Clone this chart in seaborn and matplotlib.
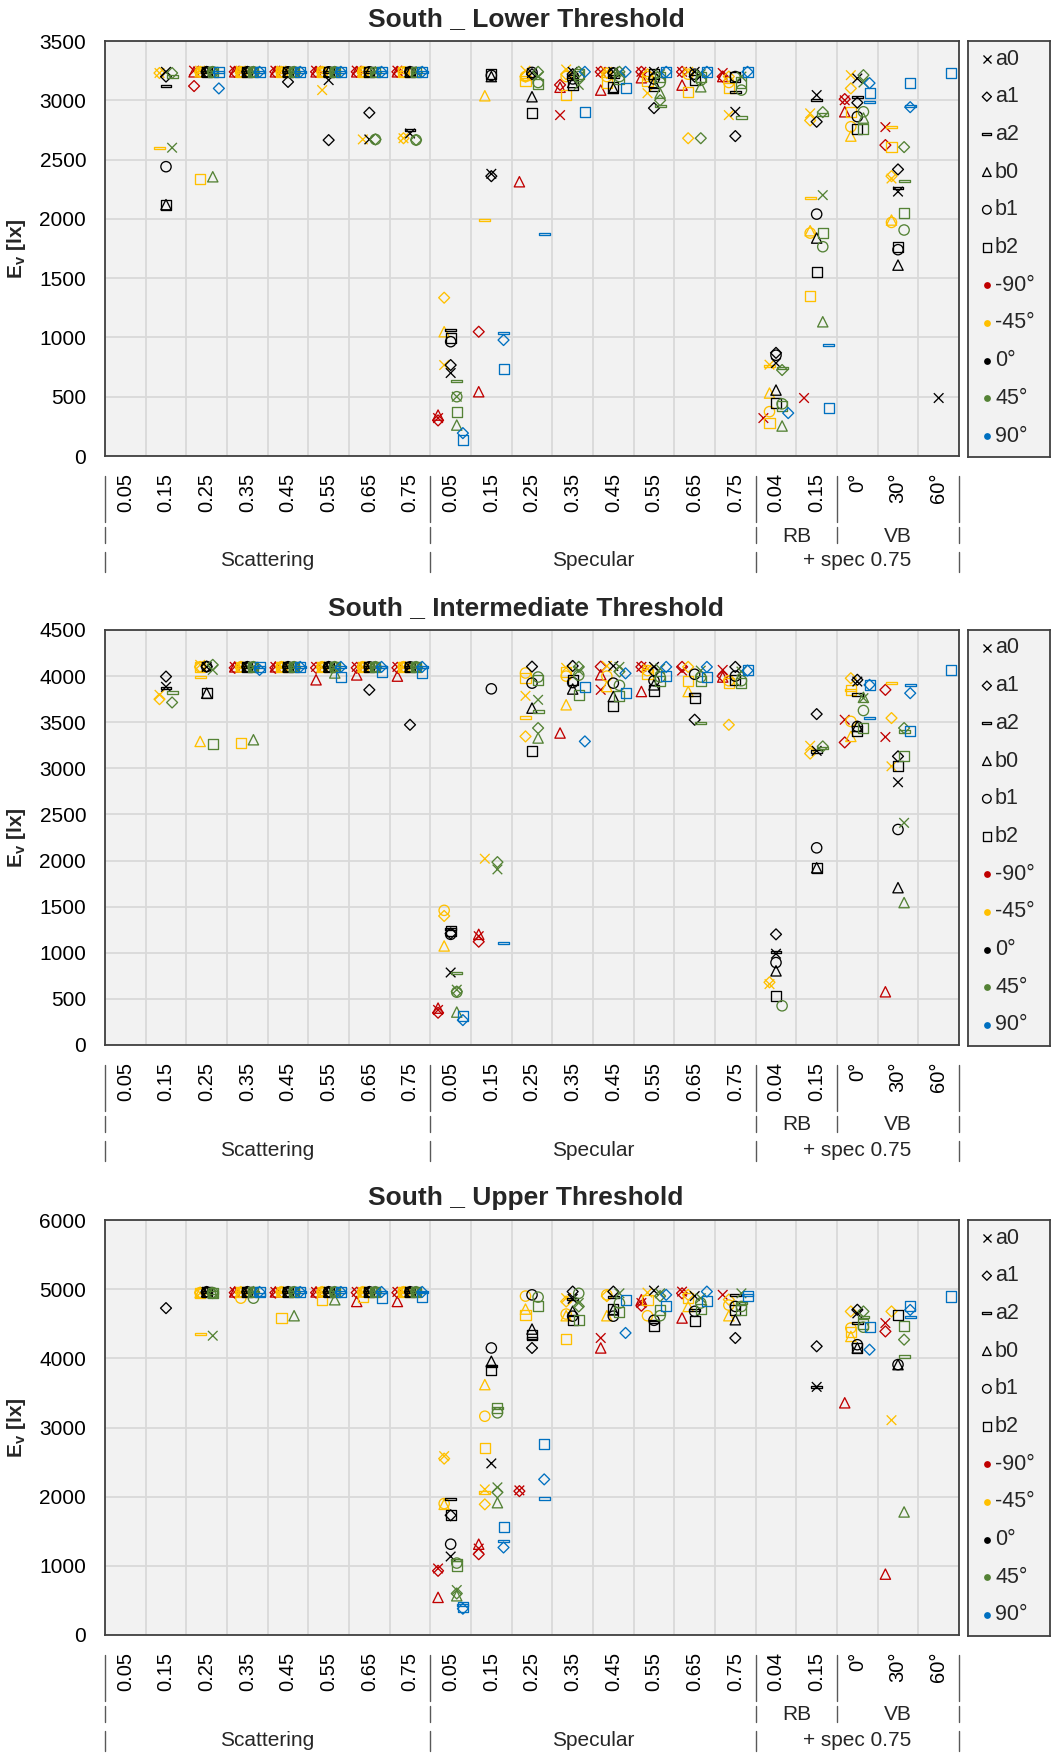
import numpy as np
import pandas as pd
import matplotlib
matplotlib.use("Agg")
import matplotlib.pyplot as plt
import seaborn as sns
from matplotlib.path import Path
from matplotlib.transforms import blended_transform_factory

N = None

# ---------------- data ----------------
categories = ['0.05', '0.15', '0.25', '0.35', '0.45', '0.55', '0.65', '0.75',
              '0.05', '0.15', '0.25', '0.35', '0.45', '0.55', '0.65', '0.75',
              '0.04', '0.15', '0°', '30°', '60°']
level2_labels = [('RB', 16, 17), ('VB', 18, 20)]
level3_labels = [('Scattering', 0, 7), ('Specular', 8, 15), ('+ spec 0.75', 16, 20)]
shapes = ['a0', 'a1', 'a2', 'b0', 'b1', 'b2']
angles = ['-90°', '-45°', '0°', '45°', '90°']

# rows: categories; columns: a0, a1, a2, b0, b1, b2
lower_m90 = [None, None,
    [3250, 3120, N, 3240, N, N], [3250, 3240, N, 3240, N, N], [3250, 3240, N, 3240, N, N],
    [3250, 3240, N, 3240, N, N], [3250, 3240, N, 3240, N, N], [3250, 3240, N, 3240, N, N],
    [320, 300, N, 345, N, N], [N, 1048, N, 542, N, N], [N, N, N, 2313, N, N],
    [2875, 3130, N, 3110, N, N], [3240, 3240, N, 3086, N, N], [3240, 3240, N, 3190, N, N],
    [3240, 3240, N, 3128, N, N], [3230, 3200, N, 3200, N, N],
    [320, N, N, N, N, N], [489, N, N, N, N, N],
    [3000, 3010, N, 2903, N, N], [2774, 2622, N, N, N, N], None]
lower_m45 = [None,
    [3230, 3230, 2600, N, N, N], [3250, 3240, 3240, 3240, 3240, 2340],
    [3250, 3240, 3240, 3240, 3240, 3240], [3250, 3240, 3240, 3240, 3240, 3240],
    [3086, 3240, 3240, 3240, 3240, 3240], [2670, 3240, 3240, 3240, 3240, 3240],
    [2680, 2680, 3240, 3240, 3240, 3240],
    [767, 1335, N, 1048, N, N], [N, N, 1990, 3038, N, N], [3250, 3200, 3180, N, 3200, 3160],
    [3260, 3220, N, N, 3200, 3044], [3240, 3230, N, N, 3200, 3150], [3060, 3220, N, N, 3200, 3160],
    [3240, 2680, N, N, 3220, 3072], [2875, 3200, N, N, 3150, 3100],
    [770, N, 759, 531, 374, 278], [2890, 2830, 2178, 1900, 1880, 1349],
    [3212, 3100, N, 2698, 2777, 2903], [2340, 2360, 2774, 1990, 1970, 2602], None]
lower_0 = [None,
    [3240, 3200, 3120, 2120, 2440, 2120], [3240, 3240, 3240, 3240, 3240, 3240],
    [3240, 3240, 3240, 3240, 3240, 3240], [3240, 3155, 3240, 3240, 3240, 3240],
    [3170, 2664, 3240, 3240, 3240, 3240], [2670, 2895, 3240, 3240, 3240, 3240],
    [2720, 3240, 2749, 3240, 3240, 3240],
    [700, 767, 1062, N, 964, 995], [2380, 2360, N, 3200, 3210, 3220], [3230, 3220, N, 3030, 3235, 2895],
    [3240, 3220, 3200, 3150, 3180, 3130], [3240, 3230, 3200, 3100, 3230, 3114],
    [3240, 2934, 3090, 3150, 3180, 3220], [3240, 3200, N, N, 3220, 3170],
    [2903, 2698, 3072, N, 3200, 3200],
    [784, 870, N, 556, 850, 450], [3044, 2819, 3000, 1838, 2040, 1554],
    [3184, 2980, 3030, N, 2862, 2755], [2230, 2417, 2260, 1610, 1740, 1765], [489, N, N, N, N, N]]
lower_p45 = [None,
    [2600, 3230, 3200, N, N, N], [3240, 3240, 3240, 2355, 3240, 3240],
    [3240, 3240, 3240, 3240, 3240, 3240], [3240, 3240, 3240, 3240, 3240, 3240],
    [3240, 3240, 3240, 3240, 3240, 3240], [3240, 2670, 3240, 3240, 2670, 3240],
    [3240, 2665, 3240, 3240, 2665, 3240],
    [500, N, 635, 261, 500, 374], None, [3200, 3240, N, N, 3150, 3140],
    [3130, 3240, N, N, 3200, 3220], [3230, 3240, N, N, 3200, 3180],
    [3220, 3000, 2950, 3060, 3150, 3200], [3220, 2680, N, 3114, 3170, 3200],
    [3200, N, 2855, N, 3086, 3150],
    [N, 725, 740, 253, 440, 420], [2200, 2900, 2880, 1132, 1765, 1880],
    [3150, 3212, N, 2850, 2903, 2755], [N, 2605, 2321, N, 1906, 2049], None]
lower_p90 = [None, None,
    [N, 3100, 3240, N, N, 3240], [N, 3240, 3240, N, N, 3240], [N, 3240, 3240, N, N, 3240],
    [N, 3240, 3240, N, N, 3240], [N, 3240, 3240, N, N, 3240], [N, 3240, 3240, N, N, 3240],
    [N, 193, N, N, N, 135], [N, 978, 1037, N, N, 733], [N, N, 1872, N, N, N],
    [N, 3240, N, N, N, 2903], [N, 3240, N, N, N, 3100], [N, 3240, N, N, N, 3240],
    [N, 3240, N, N, N, 3240], [N, 3240, N, N, N, 3240],
    [N, 362, N, N, N, N], [N, N, 936, N, N, 405],
    [N, 3145, 2987, N, N, 3060], [N, 2942, 2950, N, N, 3148], [N, N, N, N, N, 3226]]

inter_m90 = [None, None, None,
    [4100, 4090, N, 4100, N, N], [4100, 4090, N, 4100, N, N], [4100, 4090, N, 3960, N, N],
    [4100, 4090, N, 4013, N, N], [4100, 4090, N, 4000, N, N],
    [380, 350, N, 400, N, N], [1180, 1120, N, 1200, N, N], None,
    [N, N, N, 3383, N, N], [3851, 4103, N, 4015, N, N], [4100, 4100, N, 3833, N, N],
    [4060, 4100, N, N, N, N], [4067, 4000, N, 3990, N, N],
    None, None, [3527, 3281, N, N, N, N], [3340, 3851, N, 577, N, N], None]
inter_m45 = [None,
    [3797, 3750, N, N, N, N], [4122, 4100, 3988, 3292, 4100, 4100],
    [4100, 4100, 4100, 4100, 4100, 3274], [4100, 4100, 4100, 4100, 4100, 4100],
    [4100, 4100, 4100, 4100, 4100, 4100], [4100, 4100, 4100, 4100, 4100, 4100],
    [4100, 4100, 4100, 4100, 4100, 4100],
    [N, 1399, N, 1074, 1460, N], [2020, N, N, N, N, N], [3786, 3346, 3552, N, 4034, 3980],
    [4090, N, N, 3689, 4000, 4040], [4110, N, N, 3887, 4000, N], [4080, N, N, N, 4060, 4020],
    [N, 4100, N, 3833, N, 3950], [N, 3472, N, N, 3950, 3924],
    [660, 680, N, N, N, N], [3245, 3160, N, N, N, N],
    [N, 3977, 3851, 3346, 3509, 3851], [3022, 3545, 3924, N, N, N], None]
inter_0 = [None,
    [3884, 3995, 3870, N, N, N], [4100, 4103, N, 3815, 4103, 3815],
    [4100, 4100, 4100, 4100, 4100, 4100], [4100, 4100, 4100, 4100, 4100, 4100],
    [4100, 4100, 4100, 4100, 4100, 4100], [4100, 3851, 4100, 4100, 4100, 4100],
    [4100, 3472, 4100, 4100, 4100, 4100],
    [786, 1210, 1255, N, 1200, 1233], [N, N, N, N, 3862, N], [N, 4103, N, 3653, 3924, 3184],
    [N, 4110, N, 3860, 3930, 3960], [4110, N, N, 3779, 3924, 3678],
    [4100, 4050, N, 3905, 3950, 3844], [N, 3527, 3800, N, 4020, 3760],
    [N, 4100, N, N, 4000, 3960],
    [990, 1200, 1010, 804, 894, 534], [3190, 3588, 3184, 1922, 2138, 1922],
    [3941, 3960, 3800, 3454, 3454, 3400], [2849, 3130, N, 1706, 2337, 3022], None]
inter_p45 = [None,
    [N, 3714, 3822, N, N, N], [4067, 4122, N, N, N, 3267],
    [4100, 4100, 4100, 3310, 4100, 4100], [4100, 4100, 4100, 4100, 4100, 4100],
    [4100, 4100, 4100, 4034, 4100, 4100], [4100, 4100, 4100, 4100, 4100, 4100],
    [4100, 4100, 4100, 4100, 4100, 4100],
    [600, 580, 779, 357, 573, N], [1904, 1983, N, N, N, N], [3743, 3437, 3617, 3329, 3990, 3960],
    [4060, 4100, N, N, 4010, 3797], [4100, 4050, N, N, 3900, 3779], [4080, N, N, N, 3990, 3950],
    [4060, N, 3491, N, 3990, 3950], [4050, N, N, N, 3950, 3930],
    [N, N, N, N, 425, N], [N, 3238, 3220, N, N, N],
    [3761, N, N, 3770, 3627, 3437], [2409, 3437, 3400, 1544, N, 3130], None]
inter_p90 = [None, None, None,
    [N, 4067, 4100, N, N, 4100], [N, 4100, 4100, N, N, 4100], [N, 4100, 4100, N, N, 3995],
    [N, 4100, 4100, N, N, 4050], [N, 4100, 4100, N, N, 4030],
    [N, 270, N, N, N, 317], [N, N, 1103, N, N, N], None,
    [N, 3292, N, N, N, 3887], [N, 4030, N, N, N, 3822], [N, 4100, N, N, N, 4000],
    [N, 4100, N, N, N, 3990], [N, 4060, N, N, N, 4067],
    None, None, [N, 3905, 3545, N, N, 3905], [N, 3815, 3905, N, N, 3400], [N, N, N, N, N, 4067]]

upper_m90 = [None, None, None,
    [4960, 4950, N, 4960, N, N], [4960, 4950, N, 4960, N, N], [4960, 4950, N, 4960, N, N],
    [4960, 4950, N, 4822, N, N], [4960, 4950, N, 4822, N, N],
    [962, 928, N, 544, N, N], [1250, 1168, N, 1313, N, N], [2091, 2080, N, N, N, N],
    None, [4294, N, N, 4150, N, N], [4800, 4760, N, 4847, N, N],
    [4965, 4940, N, 4583, N, N], [4918, N, N, N, N, N],
    None, None, [N, N, N, 3357, N, N], [4510, 4389, N, 880, N, N], None]
upper_m45 = [None, None,
    [4943, 4950, 4356, 4950, 4950, 4950], [4960, 4960, 4960, 4960, 4870, 4960],
    [4960, 4960, 4960, 4960, 4960, 4583], [4960, 4960, 4960, 4960, 4960, 4847],
    [4960, 4960, 4960, 4960, 4960, 4880], [4960, 4960, 4960, 4960, 4960, 4960],
    [2586, 2550, N, 1889, 1900, N], [2106, 1889, 2058, 3620, 3163, 2707], [N, N, N, 4712, 4900, 4630],
    [4870, 4822, N, 4616, 4640, 4279], [N, 4900, N, 4616, 4918, N], [4950, N, N, N, 4616, 4847],
    [N, 4918, N, 4750, N, 4870], [N, 4850, N, 4616, 4770, N],
    None, None, [N, 4678, N, 4317, 4438, 4380], [3106, 4678, N, N, N, N], None]
upper_0 = [None,
    [N, 4726, N, N, N, N], [4960, 4960, 4960, 4960, 4960, 4960],
    [4960, 4960, 4960, 4960, 4960, 4960], [4960, 4960, 4960, 4960, 4960, 4960],
    [4960, 4960, 4960, 4960, 4960, 4960], [4960, 4960, 4960, 4960, 4960, 4960],
    [4960, 4960, 4960, 4960, 4960, 4960],
    [1135, 1731, 1962, N, 1313, 1731], [2481, N, 3890, 3957, 4150, 3837], [N, 4150, 4294, 4423, 4918, 4340],
    [4860, 4965, 4860, 4680, 4610, 4558], [N, 4965, 4885, 4700, 4610, 4712],
    [4980, N, 4534, N, 4550, 4462], [4900, N, 4700, N, 4680, 4534],
    [N, 4294, 4918, 4558, 4750, 4700],
    None, [3587, 4174, 3587, N, N, N],
    [4650, 4702, 4510, 4150, 4197, 4150], [N, N, N, 3909, 3909, 4630], None]
upper_p45 = [None, None,
    [4327, 4943, 4950, 4950, 4950, 4950], [4960, 4960, 4960, 4960, 4870, 4960],
    [4960, 4960, 4960, 4616, 4960, 4960], [4960, 4960, 4960, 4847, 4960, 4960],
    [4960, 4960, 4960, 4960, 4960, 4960], [4960, 4960, 4960, 4960, 4960, 4960],
    [650, 600, 1086, 567, 1040, 1000], [2135, 2063, 3284, 1913, 3212, 3284], [N, N, N, N, 4885, 4750],
    [4800, 4750, N, N, 4940, 4558], [4940, N, N, N, 4800, 4664], [4940, 4900, N, N, 4616, 4700],
    [4870, N, N, N, 4800, 4720], [4940, N, 4800, N, 4750, 4700],
    None, None, [N, 4678, 4600, N, 4450, 4500], [N, 4270, 4029, 1779, N, 4471], None]
upper_p90 = [None, None, None,
    [N, 4960, 4920, N, N, 4960], [N, 4960, 4960, N, N, 4960], [N, 4960, 4960, N, N, 4960],
    [N, 4960, 4960, N, N, 4870], [N, 4960, 4960, N, N, 4880],
    [N, 380, 430, N, N, 400], [N, 1265, 1360, N, N, 1563], [N, 2250, 1972, N, N, 2755],
    None, [N, 4367, N, N, N, 4847], [N, 4918, N, N, N, 4750],
    [N, 4965, N, N, N, 4822], [N, N, 4918, N, N, 4900],
    None, None, [N, 4125, N, N, N, 4453], [N, 4700, 4600, N, N, 4750], [N, N, N, N, N, 4894]]

panel_titles = ['South _ Lower Threshold', 'South _ Intermediate Threshold', 'South _ Upper Threshold']
panel_data = [
    {'-90°': lower_m90, '-45°': lower_m45, '0°': lower_0, '45°': lower_p45, '90°': lower_p90},
    {'-90°': inter_m90, '-45°': inter_m45, '0°': inter_0, '45°': inter_p45, '90°': inter_p90},
    {'-90°': upper_m90, '-45°': upper_m45, '0°': upper_0, '45°': upper_p45, '90°': upper_p90},
]
y_max = [3500, 4500, 6000]
y_step = [500, 500, 1000]

# ---------------- style ----------------
colors = {'-90°': '#C00000', '-45°': '#FFC000', '0°': '#000000', '45°': '#548235', '90°': '#0070C0'}
x_offset = {'-90°': -0.31, '-45°': -0.16, '0°': 0.0, '45°': 0.15, '90°': 0.30}
dash = Path([(-1, -0.22), (1, -0.22), (1, 0.22), (-1, 0.22), (-1, -0.22)],
            [Path.MOVETO, Path.LINETO, Path.LINETO, Path.LINETO, Path.CLOSEPOLY])
markers = {'a0': 'x', 'a1': 'D', 'a2': dash, 'b0': '^', 'b1': 'o', 'b2': 's'}
msize = {'a0': 48, 'a1': 31, 'a2': 62, 'b0': 55, 'b1': 55, 'b2': 52}
BG = '#F2F2F2'
GRID = '#D9D9D9'
EDGE = '#404040'

rows = []
for pi, dct in enumerate(panel_data):
    for ang in angles:
        for ci, row in enumerate(dct[ang]):
            if row is None:
                continue
            for si, v in enumerate(row):
                if v is None:
                    continue
                rows.append(dict(panel=pi, cat=ci, angle=ang, shape=shapes[si], Ev=v))
df = pd.DataFrame(rows)
df['xpos'] = df['cat'] + df['angle'].map(x_offset)

sns.set_theme(style='white')
plt.rcParams['font.family'] = ['Liberation Sans', 'DejaVu Sans']
plt.rcParams['mathtext.fontset'] = 'custom'
plt.rcParams['mathtext.rm'] = 'Liberation Sans'
plt.rcParams['mathtext.bf'] = 'Liberation Sans:bold'

W, H = 1051, 1753
fig = plt.figure(figsize=(W / 100, H / 100), dpi=100)
fig.patch.set_facecolor('white')

ax_left, ax_right = 105, 959
panel_tops = [41, 630, 1220]
panel_h = 415
leg_left, leg_right = 968, 1050

for pi in range(3):
    top = panel_tops[pi]
    ax = fig.add_axes([ax_left / W, 1 - (top + panel_h) / H, (ax_right - ax_left) / W, panel_h / H])
    ax.set_facecolor(BG)
    sub = df[df.panel == pi]
    for ang in angles:
        for sh in shapes:
            d = sub[(sub.angle == ang) & (sub['shape'] == sh)]
            if d.empty:
                continue
            sns.scatterplot(data=d, x='xpos', y='Ev', marker=markers[sh], s=msize[sh],
                            color=colors[ang], legend=False, ax=ax, zorder=3)
            coll = ax.collections[-1]
            coll.set_facecolor('none')
            coll.set_edgecolor(colors[ang])
            coll.set_linewidth(0.95)
    ax.set_xlim(-0.5, 20.5)
    ax.set_ylim(0, y_max[pi])
    ax.set_yticks(np.arange(0, y_max[pi] + 1, y_step[pi]))
    ax.set_xticks(range(len(categories)))
    ax.set_xticklabels(categories, rotation=90)
    ax.set_xticks(np.arange(-0.5, 21, 1), minor=True)
    ax.grid(which='minor', axis='x', color=GRID, linewidth=1.3)
    ax.grid(which='major', axis='y', color=GRID, linewidth=1.3)
    ax.grid(which='major', axis='x', visible=False)
    ax.set_axisbelow(True)
    ax.tick_params(axis='x', which='both', length=0, pad=12, labelsize=14.5, colors='black')
    ax.tick_params(axis='y', length=0, pad=13.5, labelsize=15, colors='black')
    for lab in ax.get_xticklabels():
        lab.set_va('top')
    ax.set_xlabel('')
    ax.set_ylabel('')
    for sp in ax.spines.values():
        sp.set_color(EDGE)
        sp.set_linewidth(1.3)

    # multi-level category axis
    tr = blended_transform_factory(ax.transData, ax.transAxes)
    px = lambda p: -p / panel_h
    sep_col = '#595959'
    for xb in [-0.5, 7.5, 15.5, 17.5, 20.5]:
        ax.plot([xb, xb], [px(20), px(66)], color=sep_col, lw=1.0, transform=tr, clip_on=False)
        ax.plot([xb, xb], [px(71), px(87)], color=sep_col, lw=1.0, transform=tr, clip_on=False)
    for xb in [-0.5, 7.5, 15.5, 20.5]:
        ax.plot([xb, xb], [px(96), px(116)], color=sep_col, lw=1.0, transform=tr, clip_on=False)
    for lab, a, b in level2_labels:
        ax.text((a + b) / 2, px(80), lab, transform=tr, ha='center', va='center', fontsize=15)
    for lab, a, b in level3_labels:
        ax.text((a + b) / 2, px(105), lab, transform=tr, ha='center', va='center', fontsize=15)

    # title and y label
    fig.text(526 / W, 1 - (top - 22) / H, panel_titles[pi], ha='center', va='center',
             fontsize=19, fontweight='bold')
    fig.text(17 / W, 1 - (top + panel_h / 2) / H, r'$\mathbf{E_v}$ [lx]', rotation=90,
             ha='center', va='center', fontsize=15, fontweight='bold')

    # legend box
    lax = fig.add_axes([leg_left / W, 1 - (top + panel_h + 1) / H, (leg_right - leg_left) / W, (panel_h + 1) / H])
    lax.set_facecolor(BG)
    lax.set_xlim(0, 1)
    lax.set_ylim(0, 1)
    lax.set_xticks([])
    lax.set_yticks([])
    for sp in lax.spines.values():
        sp.set_color(EDGE)
        sp.set_linewidth(1.3)
    entries = [(s, 'shape') for s in shapes] + [(a, 'angle') for a in angles]
    for i, (lab, kind) in enumerate(entries):
        yy = 1 - (18 + i * 37.7) / (panel_h + 1)
        if kind == 'shape':
            m = markers[lab]
            pts = lax.scatter([0.23], [yy], marker=m, s=msize[lab] * 0.7, color='black',
                              linewidths=0.95)
            if lab != 'a0':
                pts.set_facecolor('none')
                pts.set_edgecolor('black')
        else:
            lax.scatter([0.23], [yy], marker='o', s=24, color=colors[lab], linewidths=0)
        lax.text(0.33, yy, lab, ha='left', va='center', fontsize=15.5)

fig.savefig('out.png', dpi=100)
